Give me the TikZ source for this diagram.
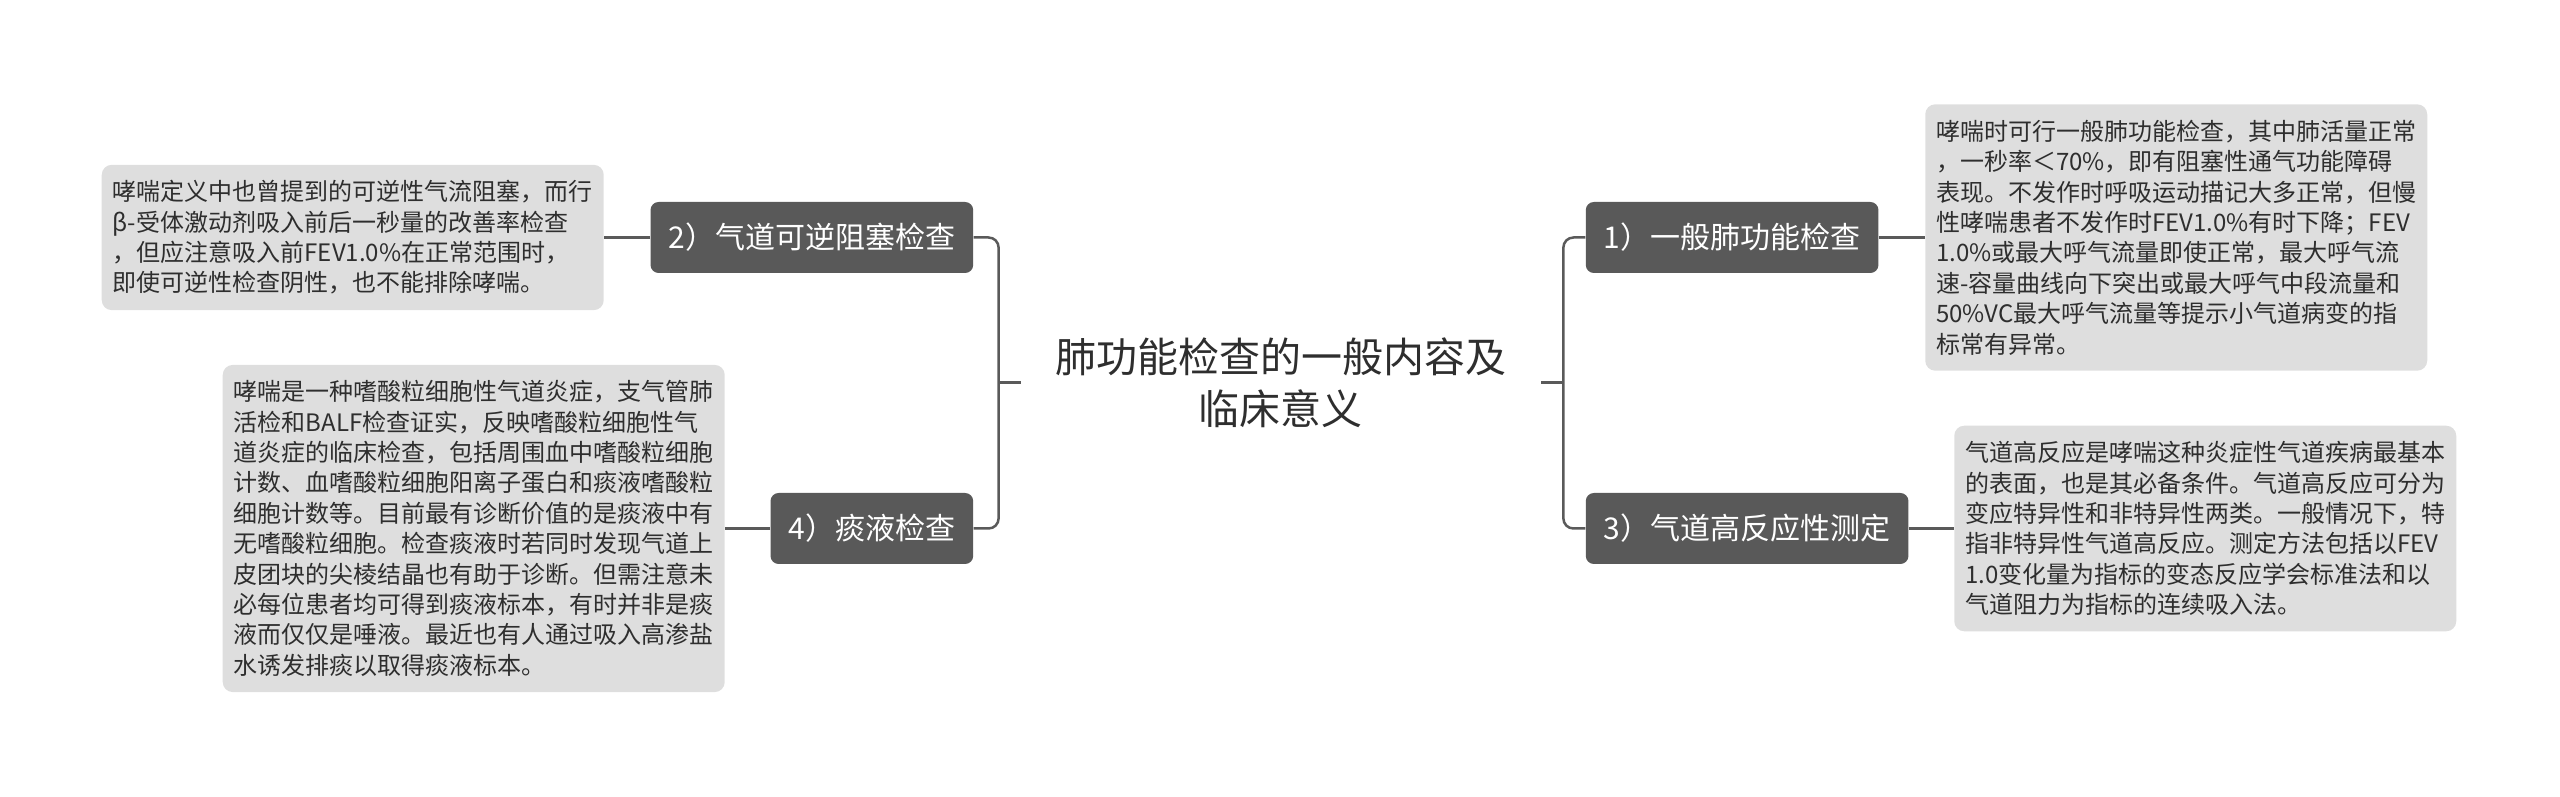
\documentclass[tikz,border=0pt]{standalone}
\usepackage{fontspec}
\setmainfont{Noto Sans CJK SC}
\usetikzlibrary{positioning}
\definecolor{mmline}{HTML}{5A5A5A}
\definecolor{mmbranch}{HTML}{595959}
\definecolor{mmleaf}{HTML}{DEDEDE}
\definecolor{mmtext}{HTML}{2E2E2E}

\begin{document}
\begin{tikzpicture}[
      root/.style={minimum width=260pt, align=center, text=mmtext,
        font=\fontsize{20.5pt}{26pt}\selectfont},
      branch/.style={rounded corners=4pt, fill=mmbranch, text=white,
        minimum height=35.5pt, inner xsep=9pt,
        font=\fontsize{15pt}{18pt}\selectfont},
      leaf/.style={rounded corners=5pt, fill=mmleaf, text=mmtext,
        text width=240pt, align=left, inner xsep=5.5pt, inner ysep=7.8pt,
        font=\fontsize{12pt}{15.2pt}\selectfont},
      conn/.style={mmline, line width=1.25pt, rounded corners=5pt},
      node distance=23pt
    ]
      \useasboundingbox (-640.5pt,-207.25pt) rectangle (639.5pt,191.25pt);
      \node[root] (root) {肺功能检查的一般内容及\\临床意义};
      \node[branch, right=22pt of root, yshift=72.5pt]  (b1) {1）一般肺功能检查};
      \node[branch, left=23.5pt of root, yshift=72.5pt] (b2) {2）气道可逆阻塞检查};
      \node[branch, right=22pt of root, yshift=-73pt]   (b3) {3）气道高反应性测定};
      \node[branch, left=23.5pt of root, yshift=-73pt]  (b4) {4）痰液检查};
      \node[leaf, right=23pt of b1] (l1) {哮喘时可行一般肺功能检查，其中肺活量正常\\
        ，一秒率＜70\%，即有阻塞性通气功能障碍\\
        表现。不发作时呼吸运动描记大多正常，但慢\\
        性哮喘患者不发作时FEV1.0\%有时下降；FEV\\
        1.0\%或最大呼气流量即使正常，最大呼气流\\
        速-容量曲线向下突出或最大呼气中段流量和\\
        50\%VC最大呼气流量等提示小气道病变的指\\
        标常有异常。};
      \node[leaf, left=23pt of b2] (l2) {哮喘定义中也曾提到的可逆性气流阻塞，而行\\
        β-受体激动剂吸入前后一秒量的改善率检查\\
        ，但应注意吸入前FEV1.0\%在正常范围时，\\
        即使可逆性检查阴性，也不能排除哮喘。};
      \node[leaf, right=22.5pt of b3] (l3) {气道高反应是哮喘这种炎症性气道疾病最基本\\
        的表面，也是其必备条件。气道高反应可分为\\
        变应特异性和非特异性两类。一般情况下，特\\
        指非特异性气道高反应。测定方法包括以FEV\\
        1.0变化量为指标的变态反应学会标准法和以\\
        气道阻力为指标的连续吸入法。};
      \node[leaf, left=22.5pt of b4] (l4) {哮喘是一种嗜酸粒细胞性气道炎症，支气管肺\\
        活检和BALF检查证实，反映嗜酸粒细胞性气\\
        道炎症的临床检查，包括周围血中嗜酸粒细胞\\
        计数、血嗜酸粒细胞阳离子蛋白和痰液嗜酸粒\\
        细胞计数等。目前最有诊断价值的是痰液中有\\
        无嗜酸粒细胞。检查痰液时若同时发现气道上\\
        皮团块的尖棱结晶也有助于诊断。但需注意未\\
        必每位患者均可得到痰液标本，有时并非是痰\\
        液而仅仅是唾液。最近也有人通过吸入高渗盐\\
        水诱发排痰以取得痰液标本。};
      \draw[conn] (root.east) -- ++(11pt,0) coordinate (rj);
      \draw[conn] (b1.west) -| (rj) |- (b3.west);
      \draw[conn] (root.west) -- ++(-11pt,0) coordinate (lj);
      \draw[conn] (b2.east) -| (lj) |- (b4.east);
      \draw[conn] (b1) -- (l1);
      \draw[conn] (b2) -- (l2);
      \draw[conn] (b3) -- (l3);
      \draw[conn] (b4) -- (l4);
    \end{tikzpicture}
\end{document}
